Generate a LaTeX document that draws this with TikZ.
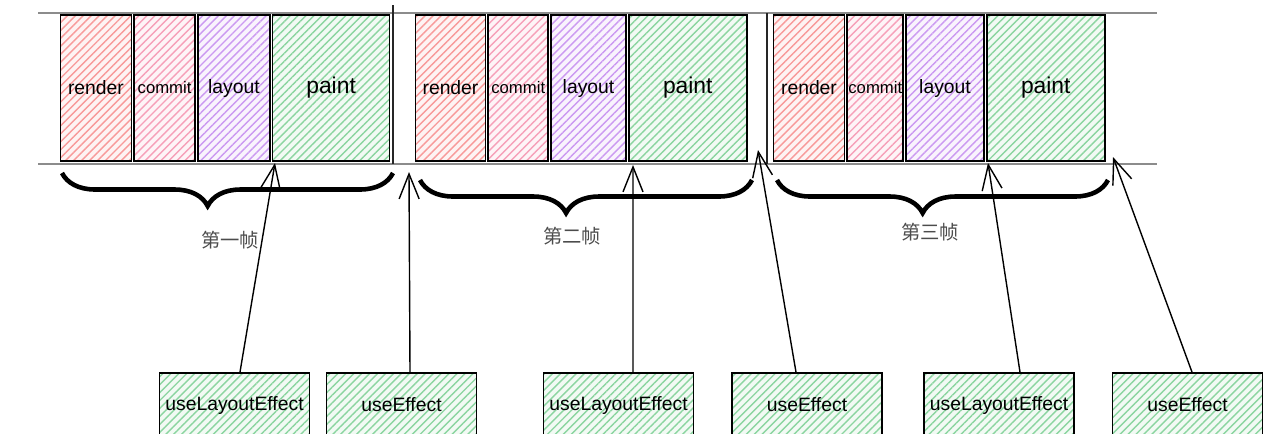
\documentclass[tikz,border=0pt]{standalone}
\usepackage{fontspec}
\setmainfont{Liberation Sans}
\newfontfamily\cjk{Noto Sans CJK SC}
\usepackage{xcolor}
\usepackage{tikz}
\usetikzlibrary{positioning,arrows.meta,decorations.pathreplacing,patterns.meta}
\definecolor{rendercolor}{RGB}{245, 110, 110}
\definecolor{commitcolor}{RGB}{242, 120, 155}
\definecolor{layoutcolor}{RGB}{180, 110, 235}
\definecolor{paintcolor}{RGB}{90, 195, 120}
\tikzset{
    hatched/.style={preaction={fill=#1!8}, pattern={Lines[angle=45, distance=3.2pt, line width=0.8pt]}, pattern color=#1!70},
    phase/.style={rectangle, draw=black, line width=1pt, inner sep=0pt, minimum height=29.2mm, font=\fontsize{11}{13}\selectfont},
    render phase/.style={phase, hatched=rendercolor},
    commit phase/.style={phase, hatched=commitcolor, font=\fontsize{9.5}{11}\selectfont},
    layout phase/.style={phase, hatched=layoutcolor},
    paint phase/.style={phase, hatched=paintcolor, font=\fontsize{13}{15}\selectfont},
    hook box/.style={rectangle, draw=black, line width=1pt, inner sep=0pt, minimum width=30mm, minimum height=12.8mm, hatched=paintcolor, font=\fontsize{11}{13}\selectfont},
    timeline/.style={line width=1.4pt, black!45},
    separator/.style={line width=1pt, black!85},
    frame brace/.style={decorate, decoration={brace, mirror, amplitude=6.6mm, aspect=0.44}, line width=2.6pt},
    frame label/.style={font=\cjk\fontsize{11}{13}\selectfont, text=black!70},
    hook arrow/.style={-{Straight Barb[length=5mm, width=4mm]}, line width=0.8pt}
}

\begin{document}
\begin{tikzpicture}[x=0.2mm, y=-0.2mm]
    \useasboundingbox (0,0) rectangle (1280,433);

    % Timeline borders and frame separators
    \draw[timeline] (38,13) -- (1157,13);
    \draw[timeline] (38,164) -- (1157,164);
    \draw[separator] (393,5) -- (393,164);
    \draw[separator] (767,13) -- (767,164);

    % First frame
    \node[render phase, minimum width=14.2mm] (r1) at (96,88) {render};
    \node[commit phase, minimum width=12.2mm, right=0.2mm of r1] (c1) {commit};
    \node[layout phase, minimum width=14.4mm, right=0.2mm of c1] (l1) {layout};
    \node[paint phase, minimum width=23.4mm, right=0.2mm of l1] (p1) {paint};

    % Second frame
    \node[render phase, minimum width=14mm] (r2) at (450.5,88) {render};
    \node[commit phase, minimum width=12mm, right=0.2mm of r2] (c2) {commit};
    \node[layout phase, minimum width=15mm, right=0.2mm of c2] (l2) {layout};
    \node[paint phase, minimum width=23.6mm, right=0.2mm of l2] (p2) {paint};

    % Third frame
    \node[render phase, minimum width=14.2mm] (r3) at (809,88) {render};
    \node[commit phase, minimum width=11.2mm, right=0.2mm of r3] (c3) {commit};
    \node[layout phase, minimum width=15.6mm, right=0.2mm of c3] (l3) {layout};
    \node[paint phase, minimum width=23.6mm, right=0.2mm of l3] (p3) {paint};

    % Braces under each frame
    \draw[frame brace] (62,173) -- (393,173);
    \draw[frame brace] (420,180) -- (752,180);
    \draw[frame brace] (777,180) -- (1108,180);
    \node[frame label] (f1) at (230,240) {第一帧};
    \node[frame label] (f2) at (572,236) {第二帧};
    \node[frame label] (f3) at (930,232) {第三帧};

    % Hook boxes at the bottom
    \node[hook box] (b1) at (234.5,405) {useLayoutEffect};
    \node[hook box] (b2) at (401.5,405) {useEffect};
    \node[hook box] (b3) at (618.5,405) {useLayoutEffect};
    \node[hook box] (b4) at (807,405) {useEffect};
    \node[hook box] (b5) at (999,405) {useLayoutEffect};
    \node[hook box] (b6) at (1187.5,405) {useEffect};

    % Points on the timeline where each hook runs
    \coordinate (t1) at (275,163);
    \coordinate (t2) at (409,172);
    \coordinate (t3) at (633,165);
    \coordinate (t4) at (758,150);
    \coordinate (t5) at (988,163);
    \coordinate (t6) at (1113,157);

    \draw[hook arrow] ([xshift=1.1mm]b1.north) -- (t1);
    \draw[hook arrow] ([xshift=1.7mm]b2.north) -- (t2);
    \draw[hook arrow] ([xshift=2.9mm]b3.north) -- (t3);
    \draw[hook arrow] ([xshift=-2.2mm]b4.north) -- (t4);
    \draw[hook arrow] ([xshift=4.2mm]b5.north) -- (t5);
    \draw[hook arrow] ([xshift=0.9mm]b6.north) -- (t6);
\end{tikzpicture}
\end{document}
